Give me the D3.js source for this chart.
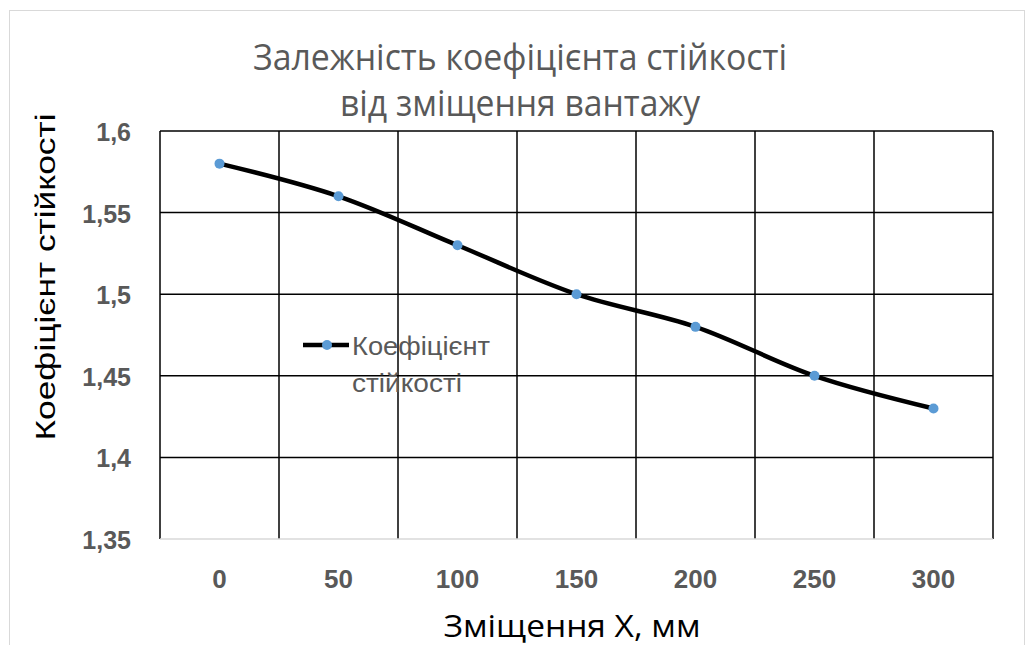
<!DOCTYPE html>
<html>
<head>
<meta charset="utf-8">
<script src="https://cdn.jsdelivr.net/npm/d3@7"></script>
<style>
  body { margin: 0; background: #fff; }
</style>
</head>
<body>
<div id="chart"></div>
<script>
const categories = [0, 50, 100, 150, 200, 250, 300];
const stability = [1.58, 1.56, 1.53, 1.50, 1.48, 1.45, 1.43];
const yTicks = [1.35, 1.4, 1.45, 1.5, 1.55, 1.6];

const width = 1027;
const height = 645;
const plot = { left: 160, right: 993, top: 131, bottom: 539 };

const svg = d3.select('#chart')
    .append('svg')
    .attr('width', width)
    .attr('height', height);

// chart frame (bottom edge falls outside the picture)
svg.append('rect')
    .attr('x', 9.5).attr('y', 10.5)
    .attr('width', 1015).attr('height', 660)
    .attr('fill', '#fff')
    .attr('stroke', '#d9d9d9');

const x = d3.scaleBand()
    .domain(categories)
    .range([plot.left, plot.right]);

const y = d3.scaleLinear()
    .domain([1.35, 1.6])
    .range([plot.bottom, plot.top]);

const fmt = d => String(d).replace('.', ',');

// horizontal gridlines
svg.append('g')
    .selectAll('line')
    .data(yTicks.filter(d => d > 1.35))
    .enter()
    .append('line')
    .attr('x1', plot.left).attr('x2', plot.right)
    .attr('y1', d => y(d)).attr('y2', d => y(d))
    .attr('stroke', '#000')
    .attr('stroke-width', 1.5);

// vertical gridlines at category boundaries
const bounds = categories.map(c => x(c)).concat([x(categories[categories.length - 1]) + x.bandwidth()]);
svg.append('g')
    .selectAll('line')
    .data(bounds)
    .enter()
    .append('line')
    .attr('x1', d => d).attr('x2', d => d)
    .attr('y1', plot.top).attr('y2', plot.bottom)
    .attr('stroke', '#000')
    .attr('stroke-width', 1.5);

// category axis line
svg.append('line')
    .attr('x1', plot.left).attr('x2', plot.right)
    .attr('y1', plot.bottom).attr('y2', plot.bottom)
    .attr('stroke', '#d9d9d9')
    .attr('stroke-width', 1.5);

// tick labels
svg.append('g')
    .selectAll('text')
    .data(yTicks)
    .enter()
    .append('text')
    .attr('x', 131)
    .attr('y', d => y(d) + 10)
    .attr('text-anchor', 'end')
    .attr('font-family', 'Liberation Sans, Arial, sans-serif')
    .attr('font-weight', 'bold')
    .attr('font-size', 25)
    .attr('fill', '#595959')
    .text(fmt);

svg.append('g')
    .selectAll('text')
    .data(categories)
    .enter()
    .append('text')
    .attr('x', d => x(d) + x.bandwidth() / 2)
    .attr('y', 588)
    .attr('text-anchor', 'middle')
    .attr('font-family', 'Liberation Sans, Arial, sans-serif')
    .attr('font-weight', 'bold')
    .attr('font-size', 26)
    .attr('fill', '#595959')
    .text(d => d);

// series line
const line = d3.line()
    .x((d, i) => x(categories[i]) + x.bandwidth() / 2)
    .y(d => y(d))
    .curve(d3.curveCatmullRom.alpha(0.5));

svg.append('path')
    .datum(stability)
    .attr('d', line)
    .attr('fill', 'none')
    .attr('stroke', '#000')
    .attr('stroke-width', 4.5)
    .attr('stroke-linejoin', 'round');

svg.append('g')
    .selectAll('circle')
    .data(stability)
    .enter()
    .append('circle')
    .attr('cx', (d, i) => x(categories[i]) + x.bandwidth() / 2)
    .attr('cy', d => y(d))
    .attr('r', 5)
    .attr('fill', '#5b9bd5');

// legend
const lg = svg.append('g');
lg.append('line')
    .attr('x1', 303).attr('x2', 349)
    .attr('y1', 345).attr('y2', 345)
    .attr('stroke', '#000')
    .attr('stroke-width', 4.5);
lg.append('circle')
    .attr('cx', 327).attr('cy', 345).attr('r', 5)
    .attr('fill', '#5b9bd5');
lg.append('text')
    .attr('x', 352).attr('y', 355)
    .attr('font-family', 'Liberation Sans, Arial, sans-serif')
    .attr('font-size', 26)
    .attr('fill', '#595959')
    .attr('textLength', 138)
    .attr('lengthAdjust', 'spacingAndGlyphs')
    .text('Коефіцієнт');
lg.append('text')
    .attr('x', 352).attr('y', 392)
    .attr('font-family', 'Liberation Sans, Arial, sans-serif')
    .attr('font-size', 26)
    .attr('fill', '#595959')
    .attr('textLength', 110)
    .attr('lengthAdjust', 'spacingAndGlyphs')
    .text('стійкості');

// titles
const titleStyle = sel => sel
    .attr('text-anchor', 'middle')
    .attr('font-family', 'Open Sans, sans-serif')
    .attr('font-size', 36)
    .attr('fill', '#595959')
    .attr('lengthAdjust', 'spacingAndGlyphs');

svg.append('text').call(titleStyle)
    .attr('x', 520).attr('y', 70)
    .attr('textLength', 534)
    .text('Залежність коефіцієнта стійкості');
svg.append('text').call(titleStyle)
    .attr('x', 520).attr('y', 116)
    .attr('textLength', 360)
    .text('від зміщення вантажу');

svg.append('text')
    .attr('transform', 'translate(55,277) rotate(-90)')
    .attr('text-anchor', 'middle')
    .attr('font-family', 'Liberation Sans, Arial, sans-serif')
    .attr('font-size', 28)
    .attr('fill', '#000')
    .attr('textLength', 327)
    .attr('lengthAdjust', 'spacingAndGlyphs')
    .text('Коефіцієнт стійкості');

svg.append('text')
    .attr('x', 572).attr('y', 637)
    .attr('text-anchor', 'middle')
    .attr('font-family', 'Open Sans, sans-serif')
    .attr('font-size', 31)
    .attr('fill', '#000')
    .attr('textLength', 257)
    .attr('lengthAdjust', 'spacingAndGlyphs')
    .text('Зміщення Х, мм');
</script>
</body>
</html>
